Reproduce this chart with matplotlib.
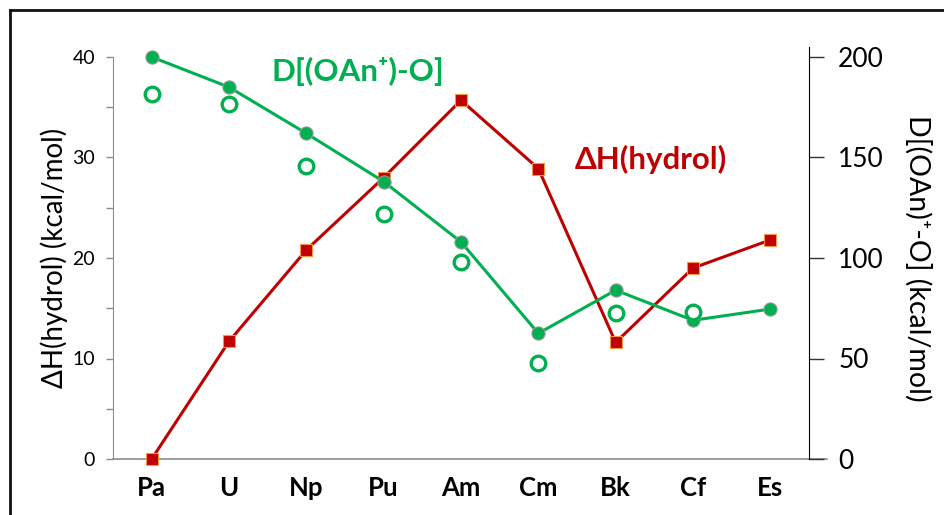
import matplotlib
matplotlib.use("Agg")
import matplotlib.pyplot as plt
from matplotlib.lines import Line2D

plt.rcParams['font.family'] = ['Lato', 'DejaVu Sans']

elements = ["Pa", "U", "Np", "Pu", "Am", "Cm", "Bk", "Cf", "Es"]

# left axis: hydrolysis enthalpy (kcal/mol)
dh_hydrol = [0.0, 11.7, 20.8, 28.0, 35.7, 28.9, 11.6, 19.0, 21.8]

# right axis: D[(OAn+)-O] (kcal/mol)
d_oan_calc = [200, 185, 162, 138, 108, 62.5, 84, 69, 74.6]
d_oan_exp = [181.6, 176.6, 146, 122, 98, 48, 72.8, 73, None]

red = '#C00000'
green = '#00B050'
grey = '#8C8C8C'

fig = plt.figure(figsize=(9.44, 5.15), dpi=100)
W, H = 944, 515
ax = fig.add_axes([113 / W, 1 - 459 / H, (809 - 113) / W, (459 - 57) / H])
ax2 = ax.twinx()

x = list(range(len(elements)))

ax.plot(x, dh_hydrol, color=red, lw=2.2, marker='s', ms=8.5,
        mfc=red, mec='#F79646', mew=0.8, zorder=3, clip_on=False)

ax2.plot(x, d_oan_calc, color=green, lw=2.2, marker='o', ms=9.5,
         mfc=green, mec='#999999', mew=0.8, zorder=3, clip_on=False)
xe = [i for i, v in zip(x, d_oan_exp) if v is not None]
ye = [v for v in d_oan_exp if v is not None]
ax2.plot(xe, ye, ls='none', marker='o', ms=10.5, mfc='white',
         mec=green, mew=2.4, zorder=3, clip_on=False)

# left axis styling
ax.set_xlim(-0.5, 8.5)
ax.set_ylim(0, 40)
ax.set_yticks([0, 10, 20, 30, 40])
ax.set_yticks([5, 15, 25, 35], minor=True)
ax.tick_params(axis='y', which='both', colors=grey, length=5, width=1,
               labelcolor='black', labelsize=14, pad=8)
ax.set_xticks(x)
ax.set_xticklabels(elements, fontsize=18.5, fontweight='bold')
ax.tick_params(axis='x', length=0, pad=12)
for s in ['top', 'right']:
    ax.spines[s].set_visible(False)
ax.spines['left'].set_color(grey)
ax.spines['bottom'].set_color(grey)
ax.spines['bottom'].set_linewidth(1.2)
ax.spines['bottom'].set_bounds(-0.5, 8.73)
ax.set_ylabel("ΔH(hydrol) (kcal/mol)", fontsize=20, labelpad=3)

# right axis styling
ax2.set_ylim(0, 200)
ax2.set_yticks([0, 50, 100, 150, 200])
ax2.tick_params(axis='y', length=11, width=1, colors='#333333',
                labelcolor='black', labelsize=19, pad=10)
for s in ['top', 'left', 'bottom']:
    ax2.spines[s].set_visible(False)
ax2.spines['right'].set_color('black')
ax2.spines['right'].set_bounds(0, 205)
ax2.set_ylabel("D[(OAn)⁺-O] (kcal/mol)", fontsize=20.5, rotation=270,
               labelpad=34)

# series labels
ax2.text(2.67, 193, "D[(OAn⁺)-O]", color=green, fontsize=22.5,
         fontweight='bold', ha='center', va='center')
ax2.text(6.46, 149, "ΔH(hydrol)", color=red, fontsize=22.5,
         fontweight='bold', ha='center', va='center')

# outer frame (cropped at right and bottom)
fig.add_artist(Line2D([10 / W, 1], [1 - 10 / H, 1 - 10 / H], color='#111111', lw=2))
fig.add_artist(Line2D([10 / W, 10 / W], [0, 1 - 10 / H], color='#111111', lw=2))

fig.savefig("out.png", dpi=100)
